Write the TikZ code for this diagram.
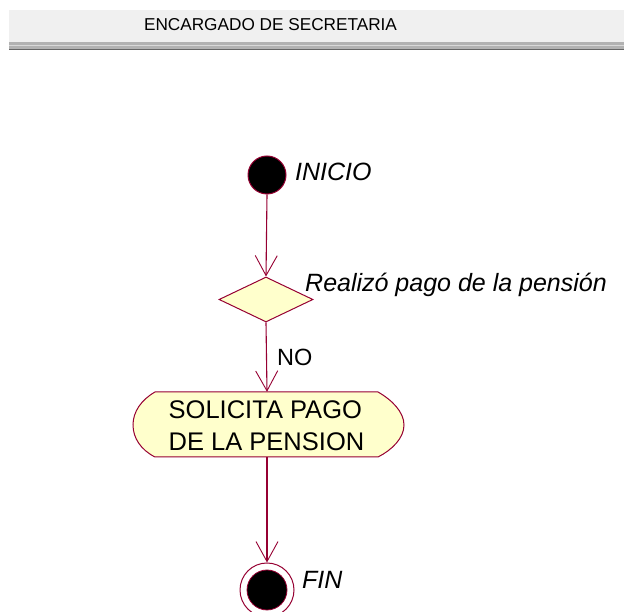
\documentclass[tikz,border=0pt]{standalone}
\usepackage{fontspec}
\setmainfont{Liberation Sans}
\usetikzlibrary{shapes.geometric,arrows.meta}
\definecolor{umlline}{RGB}{150,0,50}
\definecolor{umlfill}{RGB}{255,255,204}
\definecolor{hdrfill}{RGB}{240,240,240}
\tikzset{
  flow/.style={draw=umlline, line width=1.1pt, -{Straight Barb[length=20pt,width=22pt,line width=0.9pt]}},
  lbl/.style={anchor=west, inner sep=0pt, font=\fontsize{25}{30}\selectfont\itshape},
  plainlbl/.style={anchor=west, inner sep=0pt, font=\fontsize{23.5}{28}\selectfont},
  startnode/.style={circle, draw=umlline, line width=1pt, fill=black, minimum size=38pt, inner sep=0pt},
  decision/.style={diamond, draw=umlline, line width=1pt, fill=umlfill, minimum width=94pt, minimum height=45pt, inner sep=0pt, aspect=2.1},
}
\begin{document}
\begin{tikzpicture}[x=1pt,y=1pt]
\useasboundingbox (0,0) rectangle (624,612);
% header
\fill[hdrfill] (9,570) rectangle (624,602);
\fill[gray!60] (9,562) rectangle (624,570);
\draw[gray!30, line width=1pt] (9,566) -- (624,566);
\draw[gray!80!black, line width=0.8pt] (9,563) -- (624,563);
\node[font=\fontsize{17.2}{20}\selectfont] (hdr) at (270.5,587) {ENCARGADO DE SECRETARIA};
% initial
\node[startnode] (start) at (267,437) {};
\node[lbl] (inicio) at (295,440) {INICIO};
% decision
\node[decision] (dec) at (266,312.5) {};
\node[lbl] (declbl) at (305,327) {Realizó pago de la pensión};
% activity
\draw[draw=umlline, line width=1pt, fill=umlfill]
  (155,220) -- (378,220)
  .. controls (392,212) and (404,200) .. (404,187)
  .. controls (404,174) and (392,162) .. (378,155)
  -- (155,155)
  .. controls (141,162) and (133,174) .. (133,187)
  .. controls (133,200) and (141,212) .. (155,220) -- cycle;
\node[minimum width=271pt, minimum height=65pt, inner sep=0pt] (act) at (267,187.5) {};
\node[align=left, inner sep=0pt, font=\fontsize{25.5}{32}\selectfont] (acttext) at (266.5,186.5)
  {SOLICITA PAGO\\DE LA PENSION};
% final
\node[circle, draw=umlline, line width=1pt, fill=white, minimum size=54pt, inner sep=0pt] (fin) at (267,22) {};
\node[circle, draw=umlline, line width=0.8pt, fill=black, minimum size=40pt, inner sep=0pt] (finin) at (fin) {};
\node[lbl] (finlbl) at (302,32) {FIN};
% flows
\draw[flow] (start.south) -- (dec.north);
\draw[flow] (dec.south) -- (act.north);
\node[plainlbl] (no) at (277,255) {NO};
\draw[flow] (act.south) -- (fin.north);
\end{tikzpicture}
\end{document}
